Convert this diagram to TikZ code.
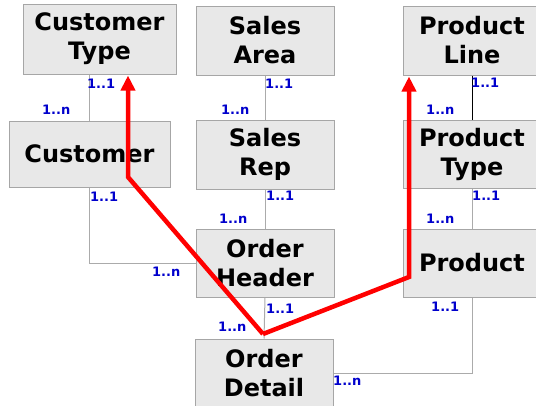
\documentclass[tikz,border=0pt]{standalone}
\usepackage{fontspec}
\newfontfamily\erdfont{DejaVu Sans}
\usetikzlibrary{arrows.meta}
\definecolor{boxfill}{HTML}{E8E8E8}
\definecolor{boxline}{HTML}{A6A6A6}
\definecolor{linkgray}{HTML}{ABABAB}
\definecolor{cardblue}{HTML}{0000CC}
\tikzset{
  entity/.style={draw=boxline, fill=boxfill, line width=1pt, align=center,
    inner sep=0pt, font=\erdfont\bfseries\fontsize{24}{29}\selectfont},
  link/.style={draw=linkgray, line width=1pt},
  card/.style={anchor=west, inner sep=0pt, text=cardblue,
    font=\erdfont\bfseries\fontsize{13}{14}\selectfont},
  drill/.style={draw=red, line width=4.5pt, line join=miter,
    -{Triangle[width=14pt,length=15pt]}, shorten >=1pt}
}
\begin{document}
\begin{tikzpicture}[x=1pt,y=-1pt]
\useasboundingbox (0,0) rectangle (536,405);
\clip (0,0) rectangle (536,405);

% entities
\node[entity, minimum width=153pt, minimum height=70pt] (ct) at (99.5,39) {Customer\\Type};
\node[entity, minimum width=138pt, minimum height=69pt] (sa) at (265,40.5) {Sales\\Area};
\node[entity, minimum width=138pt, minimum height=69pt] (pl) at (472,40.5) {Product\\Line};
\node[entity, minimum width=161pt, minimum height=66pt] (cu) at (89.5,154) {Customer};
\node[entity, minimum width=138pt, minimum height=69pt] (sr) at (265,154.5) {Sales\\Rep};
\node[entity, minimum width=138pt, minimum height=68pt] (pt) at (472,154) {Product\\Type};
\node[entity, minimum width=138pt, minimum height=68pt] (oh) at (265,263) {Order\\Header};
\node[entity, minimum width=138pt, minimum height=68pt] (pr) at (472,263) {Product};
\node[entity, minimum width=138pt, minimum height=68pt] (od) at (264,373) {Order\\Detail};

% relationships
\draw[link] (cu.north) -- (cu.north |- ct.south);
\draw[link] (sa.south) -- (sr.north);
\draw[draw=black, line width=1pt] (pl.south) -- (pt.north);
\draw[link] (cu.south) |- (oh.west);
\draw[link] (sr.south) -- (oh.north);
\draw[link] (pt.south) -- (pr.north);
\draw[link] (oh.south) -- (od.north);
\draw[link] (pr.south) |- (od.east);

% cardinalities
\node[card] (c1) at (87,84) {1..1};
\node[card] (c2) at (42,110) {1..n};
\node[card] (c3) at (265,84) {1..1};
\node[card] (c4) at (221,110) {1..n};
\node[card] (c5) at (471,83) {1..1};
\node[card] (c6) at (426,110) {1..n};
\node[card] (c7) at (90,197) {1..1};
\node[card] (c8) at (152,272) {1..n};
\node[card] (c9) at (266,196) {1..1};
\node[card] (c10) at (219,219) {1..n};
\node[card] (c11) at (472,196) {1..1};
\node[card] (c12) at (426,219) {1..n};
\node[card] (c13) at (266,309) {1..1};
\node[card] (c14) at (218,327) {1..n};
\node[card] (c15) at (431,307) {1..1};
\node[card] (c16) at (333,381) {1..n};

% drill paths
\coordinate (hub) at (263,334);
\coordinate (bendL) at (128,177);
\coordinate (bendR) at (409,277);
\draw[drill] (hub) -- (bendL) -- (bendL |- ct.south);
\draw[drill] (hub) -- (bendR) -- (bendR |- pl.south);
\end{tikzpicture}
\end{document}
